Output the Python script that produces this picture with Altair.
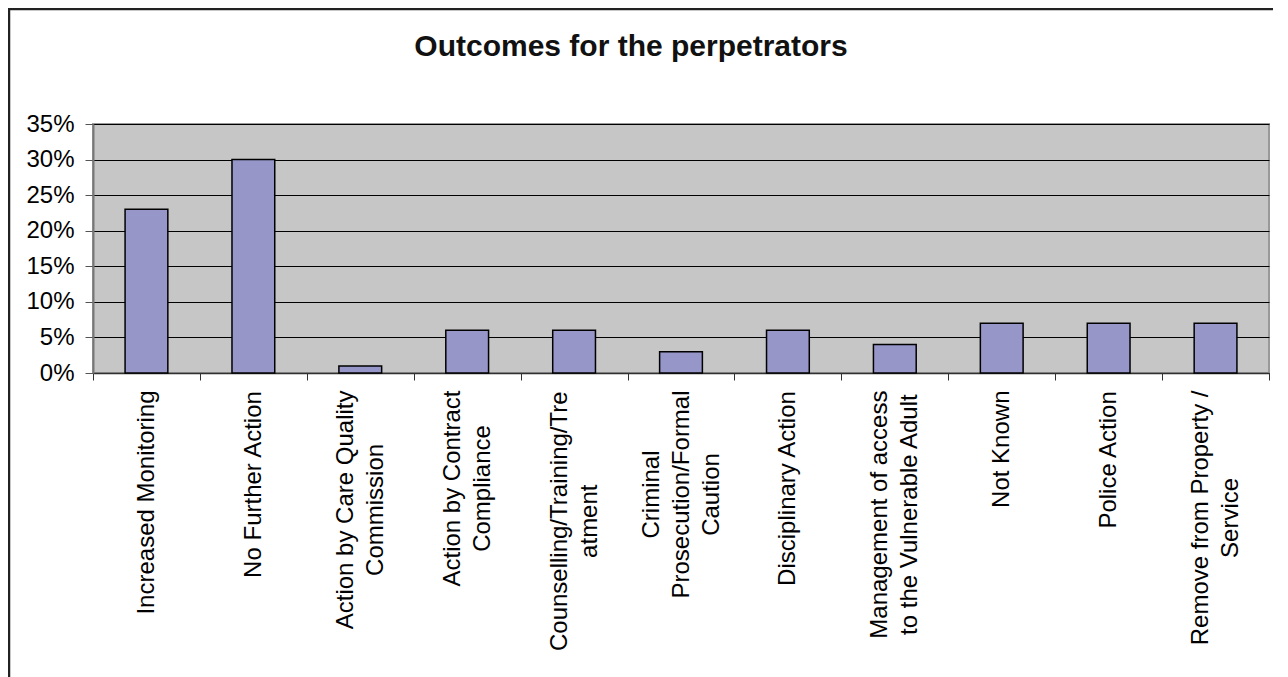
import altair as alt
import pandas as pd

categories = [
    "Increased Monitoring",
    "No Further Action",
    "Action by Care Quality Commission",
    "Action by Contract Compliance",
    "Counselling/Training/Treatment",
    "Criminal Prosecution/Formal Caution",
    "Disciplinary Action",
    "Management of access to the Vulnerable Adult",
    "Not Known",
    "Police Action",
    "Remove from Property / Service",
]
values = [0.23, 0.30, 0.01, 0.06, 0.06, 0.03, 0.06, 0.04, 0.07, 0.07, 0.07]

# tick label lines as wrapped in the original
label_lines = [
    ["Increased Monitoring"],
    ["No Further Action"],
    ["Action by Care Quality", "Commission"],
    ["Action by Contract", "Compliance"],
    ["Counselling/Training/Tre", "atment"],
    ["Criminal", "Prosecution/Formal", "Caution"],
    ["Disciplinary Action"],
    ["Management of access", "to the Vulnerable Adult"],
    ["Not Known"],
    ["Police Action"],
    ["Remove from Property /", "Service"],
]

# Arial / Liberation Sans advance widths (per 1000 em) for measuring label length
AW = {" ": 278, "/": 278, "A": 667, "C": 722, "D": 722, "F": 611, "I": 278, "K": 667,
      "M": 833, "N": 722, "P": 667, "Q": 778, "R": 722, "S": 667, "T": 611, "V": 667,
      "a": 556, "b": 556, "c": 500, "d": 556, "e": 556, "f": 278, "g": 556, "h": 556,
      "i": 222, "l": 222, "m": 833, "n": 556, "o": 556, "p": 556, "r": 333, "s": 500,
      "t": 278, "u": 556, "v": 500, "w": 722, "y": 500}

LABEL_SIZE = 24
LINE_H = 30
PAD = 10


def text_w(s):
    return sum(AW.get(ch, 556) for ch in s) / 1000 * LABEL_SIZE


df = pd.DataFrame({"category": categories, "value": values})

lbl_parts, off_parts, pad_parts = [], [], []
for cat, lines in zip(categories, label_lines):
    arr = ", ".join("'" + t.replace("'", "\\'") + "'" for t in lines)
    lbl_parts.append(f"datum.value == '{cat}' ? [{arr}]")
    off_parts.append(f"datum.value == '{cat}' ? {-(len(lines) - 1) * LINE_H / 2}")
    half = max(text_w(t) for t in lines) / 2
    pad_parts.append(f"datum.value == '{cat}' ? {PAD + half:.1f}")
label_expr = " : ".join(lbl_parts) + " : datum.label"
off_expr = "(" + " : ".join(off_parts) + " : 0)"
pad_expr = "(" + " : ".join(pad_parts) + f" : {PAD})"

FONT = "Liberation Sans, Arial, Helvetica, sans-serif"

bars = alt.Chart(df).mark_bar(
    width=alt.RelativeBandSize(0.4),
    color="#9696C8",
    stroke="#000000",
    strokeWidth=1.5,
).encode(
    x=alt.X(
        "category:N",
        sort=categories,
        scale=alt.Scale(paddingInner=0, paddingOuter=0),
        axis=alt.Axis(
            title=None,
            labelAngle=-90,
            labelAlign="center",
            labelBaseline="middle",
            labelExpr=label_expr,
            labelFontSize=LABEL_SIZE,
            labelLineHeight=LINE_H,
            labelColor="#000000",
            labelPadding=alt.ExprRef(expr=pad_expr),
            labelLimit=400,
            labelOffset=alt.ExprRef(expr=off_expr),
            tickBand="extent",
            tickSize=7,
            tickColor="#333333",
            domainColor="#303030",
            domainWidth=1.5,
            grid=False,
        ),
    ),
    y=alt.Y(
        "value:Q",
        scale=alt.Scale(domain=[0, 0.35], nice=False),
        axis=alt.Axis(
            title=None,
            format=".0%",
            values=[0, 0.05, 0.10, 0.15, 0.20, 0.25, 0.30, 0.35],
            labelFontSize=24,
            labelColor="#000000",
            labelPadding=11,
            tickSize=8,
            tickColor="#555555",
            domainColor="#777777",
            domainWidth=2,
            grid=True,
            gridColor="#000000",
            gridWidth=1,
            gridOpacity=1,
        ),
    ),
)

frame = alt.Chart(pd.DataFrame({"f": [0]})).mark_rect(
    fill=None, stroke="#222222", strokeWidth=2.5
).encode(
    x=alt.value(-84), x2=alt.value(1190), y=alt.value(-115), y2=alt.value(600)
)

chart = alt.layer(bars, frame).properties(
    width=1176,
    height=249,
    autosize=alt.AutoSizeParams(type="none"),
    padding={"left": 85, "top": 116, "right": 4, "bottom": 304},
    title=alt.TitleParams(
        "Outcomes for the perpetrators",
        fontSize=30,
        fontWeight="bold",
        font=FONT,
        color="#111111",
        anchor="middle",
        dx=-50,
        offset=-54,
    ),
).configure(font=FONT).configure_view(
    fill="#C6C6C6", stroke="#999999", strokeWidth=2
).configure_axis(labelFont=FONT)

chart.save("out.html", embed_options={"renderer": "svg", "actions": False})
